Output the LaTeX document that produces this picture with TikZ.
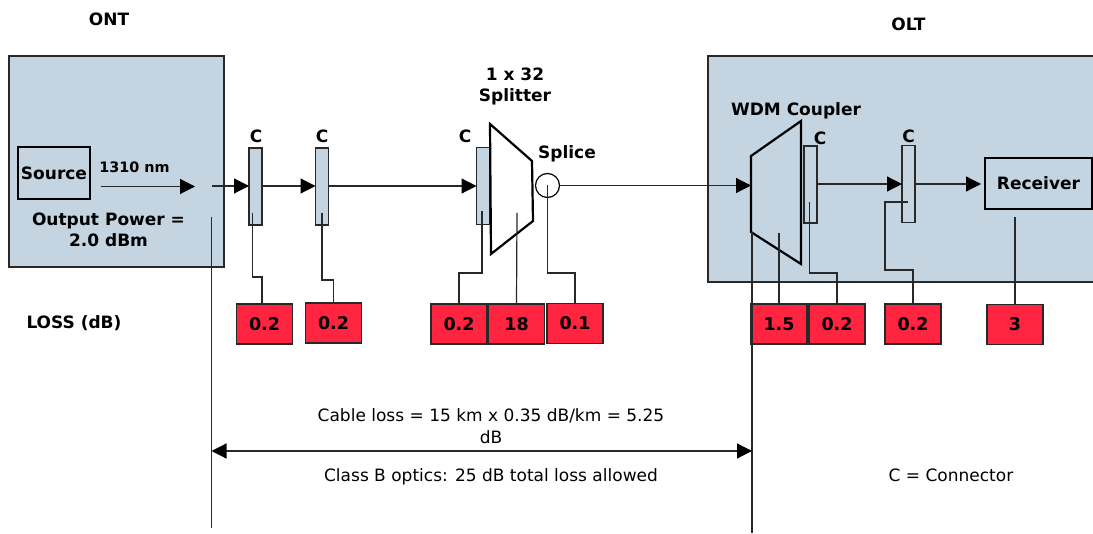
\documentclass[tikz,border=0pt]{standalone}
\usepackage{fontspec}
\setmainfont{DejaVu Sans}
\definecolor{sitefill}{RGB}{196, 212, 224}
\definecolor{lossfill}{RGB}{255, 36, 64}
\definecolor{wirecolor}{RGB}{40, 40, 40}
\usetikzlibrary{arrows.meta}
\tikzset{
    every node/.style={outer sep=0pt, inner sep=0pt},
    sitebox/.style={draw=wirecolor, fill=sitefill, line width=1.2pt},
    connbox/.style={draw=wirecolor, fill=sitefill, line width=1.2pt,
        minimum width=13pt, minimum height=77pt},
    lossbox/.style={draw=wirecolor, fill=lossfill, line width=1.2pt, font=\bfseries\fontsize{17.5}{21}\selectfont,
        minimum width=56pt, minimum height=40pt},
    unitbox/.style={draw=black, line width=2.5pt, font=\bfseries\fontsize{17}{21}\selectfont},
    tag/.style={font=\bfseries\fontsize{17}{21}\selectfont, align=center},
    note/.style={font=\fontsize{17}{22}\selectfont, align=center},
    fibre/.style={draw=wirecolor, line width=1.2pt, -{Triangle[length=15pt, width=15pt, color=black]}},
    wire/.style={draw=wirecolor, line width=1.2pt},
    device/.style={draw=black, line width=2.2pt, line join=miter},
}
\begin{document}
\begin{tikzpicture}[x=1pt, y=-1pt]
    \useasboundingbox (0, 0) rectangle (1093, 534);
    \draw[sitebox] (9, 56) rectangle (224, 267);
    \draw[sitebox] (708, 56) rectangle (1098, 282);
    % units
    \node[unitbox, minimum width=72pt, minimum height=52pt] (source) at (54, 173) {Source};
    \node[unitbox, minimum width=107pt, minimum height=51pt] (receiver) at (1038.5, 183.5) {Receiver};
    % connectors
    \foreach \name/\x/\y in {c1/255.5/186.5, c2/322/186.5, c3/483/186, c4/810.5/184.5, c5/908.5/184}{
        \node[connbox] (\name) at (\x, \y) {};
    }
    % splitter, wdm coupler, splice
    \draw[device, fill=white] (490, 124) -- (532, 161) -- (533, 221) -- (491, 254) -- cycle;
    \draw[device] (751, 156) -- (801, 121) -- (801, 264) -- (751, 232) -- cycle;
    \node[draw=black, line width=1.2pt, circle, minimum size=24pt] (splice) at (547.5, 185.5) {};
    % fibre
    \coordinate (srcout) at (101, 186.5);
    \coordinate (srcend) at (195, 186.5);
    \coordinate (ontout) at (212, 186);
    \coordinate (wdmin) at (751, 185.5);
    \coordinate (rxin) at (981, 184);
    \draw[fibre] (srcout) -- (srcend);
    \draw[fibre] (ontout) -- (c1.west |- ontout);
    \draw[fibre] (c1.east |- ontout) -- (c2.west |- ontout);
    \draw[fibre] (c2.east |- ontout) -- (c3.west |- ontout);
    \draw[fibre] (splice.east) -- (wdmin);
    \draw[fibre] (c4.east |- c5) -- (c5.west);
    \draw[fibre] (c5.east) -- (rxin);
    % loss values
    \foreach \name/\x/\y/\val in {l1/264.5/324/0.2, l2/333.5/323/0.2, l3/459/324/0.2, l4/516.5/324/18,
        l5/575/323.5/0.1, l6/779/324/1.5, l7/837/324/0.2, l8/913/324/0.2, l9/1015/324.5/3}{
        \node[lossbox] (\name) at (\x, \y) {\val};
    }
    % wires down to the loss values
    \coordinate (t1) at (252.5, 213);
    \coordinate (t2) at (322, 213);
    \coordinate (t3) at (482, 211);
    \coordinate (t4) at (517, 213);
    \coordinate (t6) at (779, 233);
    \coordinate (t7) at (809.5, 202);
    \coordinate (t8) at (908, 202);
    \coordinate (t9) at (1015, 217);
    \draw[wire] (t1) -- (252.5, 277) -| (262, 304);
    \draw[wire] (t2) -- (322, 280) -| (l2.north);
    \draw[wire] (t3) -- (482, 273) -| (l3.north);
    \draw[wire] (t4) -- (l4.north);
    \draw[wire] (splice.center) -- (547.5, 273) -| (l5.north);
    \draw[wire] (t6) -- (l6.north);
    \draw[wire] (t7) -- (809.5, 273) -| (l7.north);
    \draw[wire] (t8) -| (885, 270) -| (l8.north);
    \draw[wire] (t9) -- (l9.north);
    % cable span
    \coordinate (spana) at (211.5, 217);
    \coordinate (spanb) at (211.5, 528);
    \coordinate (spanc) at (752, 232);
    \coordinate (spand) at (752, 533);
    \draw[wire] (spana) -- (spanb);
    \draw[wire] (spanc) -- (spand);
    \draw[wire, {Triangle[length=15pt, width=15pt, color=black]}-{Triangle[length=15pt, width=15pt, color=black]}]
        (211.5, 451) -- (752, 451);
    % labels
    \node[tag] (ont) at (109, 19.5) {ONT};
    \node[tag] (olt) at (908.5, 24.5) {OLT};
    \node[tag] (split) at (515, 86.5) {1 x 32\\Splitter};
    \node[tag] (splicetag) at (567, 153.5) {Splice};
    \node[tag] (wdm) at (796, 111) {WDM Coupler};
    \node[tag, font=\bfseries\fontsize{14.4}{17}\selectfont] (nm) at (134.5, 167.5) {1310 nm};
    \node[tag] (power) at (108.5, 230) {Output Power =\\2.0 dBm};
    \node[tag] (loss) at (74, 323) {LOSS (dB)};
    \foreach \name/\x/\y in {k1/256/136, k2/322/136, k3/465/136, k4/820/138, k5/908.5/136}{
        \node[tag] (\name) at (\x, \y) {C};
    }
    \node[note] (cable) at (491, 426.5) {Cable loss = 15 km x 0.35 dB/km = 5.25\\dB};
    \node[note] (classb) at (491, 476.5) {Class B optics: 25 dB total loss allowed};
    \node[note] (legend) at (951, 475) {C = Connector};
\end{tikzpicture}
\end{document}
